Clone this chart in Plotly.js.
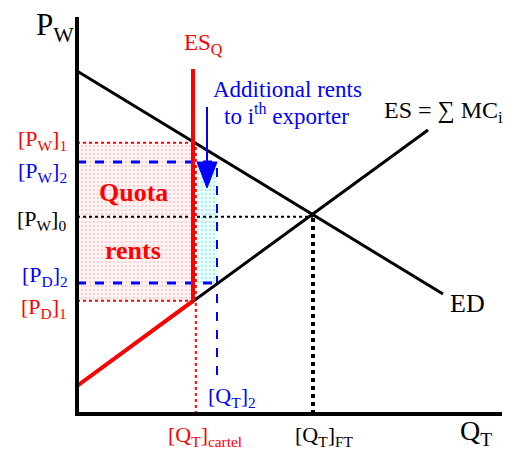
<!DOCTYPE html>
<html>
<head>
<meta charset="utf-8">
<script src="https://cdn.plot.ly/plotly-3.0.1.min.js"></script>
<style>html,body{margin:0;padding:0;background:#fff;}#chart{width:515px;height:450px;}</style>
</head>
<body>
<div id="chart"></div>
<script>
// ---- data (economic diagram, arbitrary units) ----
const axisQ = [0, 0, 10.625];
const axisP = [9.925, 0, 0];
const edQ = [0, 9.15];
const edP = [8.575, 3.0];
const esQ = [0, 8.775];
const esP = [0.7, 7.1];
const qCartel = 2.9;
const qCartelEdge = 2.97;
const q2 = 3.5;
const qFT = 5.9;
const pW1 = 6.78;
const pW2 = 6.3;
const pW0 = 4.93;
const pD2 = 3.275;
const pD1 = 2.83;
const esqTop = 8.625;
const q2Bottom = 0.975;
const arrowQ = 3.25;
const arrowTop = 7.675;
const arrowTip = 5.65;
const arrowHalf = 0.25;

const labelTexts = {
  pw: 'P<sub>W</sub>',
  esq: 'ES<sub>Q</sub>',
  add1: 'Additional rents',
  add2: 'to i<sup>th</sup> exporter',
  es: 'ES = \u2211 MC<sub>i</sub>',
  ed: 'ED',
  quota: 'Quota',
  rents: 'rents',
  pw1: '[P<sub>W</sub>]<sub>1</sub>',
  pw2: '[P<sub>W</sub>]<sub>2</sub>',
  pw0: '[P<sub>W</sub>]<sub>0</sub>',
  pd2: '[P<sub>D</sub>]<sub>2</sub>',
  pd1: '[P<sub>D</sub>]<sub>1</sub>',
  q2: '[Q<sub>T</sub>]<sub>2</sub>',
  qc: '[Q<sub>T</sub>]<sub>cartel</sub>',
  qft: '[Q<sub>T</sub>]<sub>FT</sub>',
  qt: 'Q<sub>T</sub>'
};

const RED = '#ff0000', BLUE = '#0000ff', BLACK = '#000000';
const W = 515, H = 450;
const FONT = 'Liberation Serif';

function line(x, y, color, width, dash, extra) {
  return Object.assign({type: 'scatter', mode: 'lines', x: x, y: y, hoverinfo: 'skip',
    line: {color: color, width: width, dash: dash || 'solid'}, showlegend: false}, extra || {});
}

const traces = [
  // shaded areas
  line([0, qCartel, qCartel, 0, 0], [pD1, pD1, pW1, pW1, pD1], 'rgba(0,0,0,0)', 0, 'solid',
       {fill: 'toself', fillcolor: '#fff3f3',
        fillpattern: {shape: '.', fgcolor: '#f9d2d2', bgcolor: '#fff6f6', size: 4, solidity: 0.35}}),
  line([qCartelEdge, q2, q2, qCartelEdge, qCartelEdge], [pD2, pD2, pW2, pW2, pD2], 'rgba(0,0,0,0)', 0, 'solid',
       {fill: 'toself', fillcolor: '#eefefe',
        fillpattern: {shape: '.', fgcolor: '#a8f2f2', bgcolor: '#f2ffff', size: 4, solidity: 0.35}}),
  // dotted guides
  line([0, qCartel], [pW1, pW1], RED, 2, 'dot'),
  line([0, qCartel], [pD1, pD1], RED, 2, 'dot'),
  line([qCartelEdge, qCartelEdge], [0, pW1], RED, 2, 'dot'),
  line([0, qFT], [pW0, pW0], BLACK, 2, 'dot'),
  line([qFT, qFT], [0, pW0], BLACK, 4, 'dot'),
  // blue dashed
  line([0, q2], [pW2, pW2], BLUE, 3, 'dash'),
  line([0, q2], [pD2, pD2], BLUE, 3, 'dash'),
  line([q2, q2], [q2Bottom, pW2], BLUE, 2, 'dash'),
  // curves
  line(edQ, edP, BLACK, 3),
  line(esQ, esP, BLACK, 3),
  line([0, qCartel], [esP[0], pD1], RED, 4),
  line([qCartel, qCartel], [pD1, esqTop], RED, 4),
  // arrow
  line([arrowQ, arrowQ], [arrowTop, pW2], BLUE, 2),
  line([arrowQ - arrowHalf, arrowQ + arrowHalf, arrowQ, arrowQ - arrowHalf], [pW2, pW2, arrowTip, pW2], BLUE, 1, 'solid',
       {fill: 'toself', fillcolor: BLUE}),
  // axes
  line(axisQ, axisP, BLACK, 4)
];

function ann(key, px, py, size, color, xanchor, bold) {
  return {xref: 'paper', yref: 'paper', x: px / W, y: 1 - py / H, xanchor: xanchor, yanchor: 'middle',
    text: bold ? '<b>' + labelTexts[key] + '</b>' : labelTexts[key], showarrow: false,
    font: {family: FONT, size: size, color: color}};
}

const annotations = [
  ann('pw', 34, 27, 31, BLACK, 'left'),
  ann('esq', 182, 44, 23, RED, 'left'),
  ann('add1', 287, 90, 23, BLUE, 'center'),
  ann('add2', 286, 114, 23, BLUE, 'center'),
  ann('es', 382, 112, 24, BLACK, 'left'),
  ann('ed', 448, 303, 26, BLACK, 'left'),
  ann('quota', 133, 192, 26, RED, 'center', true),
  ann('rents', 133, 250, 26, RED, 'center', true),
  ann('pw1', 69, 140, 22, RED, 'right'),
  ann('pw2', 69, 172, 22, BLUE, 'right'),
  ann('pw0', 68, 220, 22, BLACK, 'right'),
  ann('pd2', 70, 276, 22, BLUE, 'right'),
  ann('pd1', 69, 308, 22, RED, 'right'),
  ann('q2', 206, 397, 22, BLUE, 'left'),
  ann('qc', 166, 436, 22, RED, 'left'),
  ann('qft', 293, 436, 22, BLACK, 'left'),
  ann('qt', 458, 432, 28, BLACK, 'left')
];

const layout = {
  width: W, height: H,
  margin: {l: 0, r: 0, t: 0, b: 0},
  paper_bgcolor: '#ffffff', plot_bgcolor: '#ffffff',
  font: {family: FONT},
  xaxis: {range: [-77 / 40, (W - 77) / 40], visible: false, fixedrange: true},
  yaxis: {range: [(414 - H) / 40, 414 / 40], visible: false, fixedrange: true},
  showlegend: false,
  annotations: annotations
};

Plotly.newPlot('chart', traces, layout, {staticPlot: true, displayModeBar: false});
</script>
</body>
</html>
